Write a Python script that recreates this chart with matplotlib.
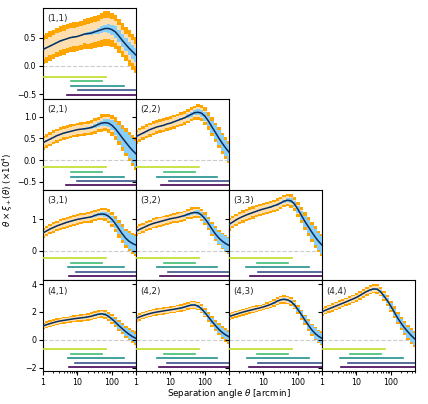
import numpy as np
import matplotlib
matplotlib.use('Agg')
import matplotlib.pyplot as plt
from matplotlib import ticker

# angular bins [arcmin]
theta = [1.0, 1.26, 1.58, 2.0, 2.51, 3.16, 3.98, 5.01, 6.31, 7.94, 10.0, 12.6, 15.8, 20.0,
         25.1, 31.6, 39.8, 50.1, 63.1, 79.4, 100.0, 126.0, 158.0, 200.0, 251.0, 316.0, 398.0, 501.0]

# theta * xi_+ (x1e4), best fit per bin pair
xi_11 = [0.29, 0.32, 0.35, 0.38, 0.41, 0.44, 0.46, 0.48, 0.50, 0.51, 0.52, 0.54, 0.56, 0.57,
         0.58, 0.60, 0.62, 0.64, 0.66, 0.66, 0.64, 0.60, 0.53, 0.45, 0.38, 0.31, 0.25, 0.19]
xi_21 = [0.40, 0.44, 0.48, 0.52, 0.56, 0.59, 0.62, 0.64, 0.66, 0.68, 0.70, 0.71, 0.72, 0.73,
         0.75, 0.78, 0.82, 0.85, 0.86, 0.85, 0.80, 0.72, 0.62, 0.51, 0.41, 0.31, 0.22, 0.14]
xi_22 = [0.54, 0.58, 0.62, 0.66, 0.70, 0.73, 0.76, 0.78, 0.80, 0.83, 0.85, 0.88, 0.91, 0.94,
         0.97, 1.01, 1.05, 1.09, 1.10, 1.08, 1.01, 0.90, 0.77, 0.64, 0.51, 0.39, 0.28, 0.18]
xi_31 = [0.57, 0.63, 0.69, 0.74, 0.79, 0.83, 0.87, 0.91, 0.94, 0.97, 1.00, 1.02, 1.04, 1.06,
         1.08, 1.12, 1.16, 1.17, 1.16, 1.10, 1.00, 0.86, 0.70, 0.54, 0.40, 0.30, 0.23, 0.18]
xi_32 = [0.62, 0.68, 0.73, 0.78, 0.83, 0.87, 0.90, 0.93, 0.96, 0.99, 1.02, 1.04, 1.06, 1.09,
         1.12, 1.16, 1.20, 1.22, 1.21, 1.14, 1.02, 0.87, 0.70, 0.54, 0.41, 0.31, 0.23, 0.17]
xi_33 = [0.84, 0.91, 0.98, 1.04, 1.09, 1.14, 1.18, 1.22, 1.26, 1.30, 1.33, 1.36, 1.39, 1.43,
         1.47, 1.52, 1.58, 1.61, 1.59, 1.49, 1.32, 1.13, 0.94, 0.77, 0.60, 0.44, 0.30, 0.18]
xi_41 = [0.99, 1.08, 1.16, 1.23, 1.30, 1.35, 1.39, 1.43, 1.47, 1.51, 1.54, 1.57, 1.60, 1.64,
         1.69, 1.76, 1.83, 1.86, 1.82, 1.68, 1.49, 1.26, 1.02, 0.80, 0.58, 0.39, 0.22, 0.10]
xi_42 = [1.54, 1.64, 1.73, 1.81, 1.88, 1.94, 1.99, 2.03, 2.07, 2.11, 2.15, 2.19, 2.23, 2.28,
         2.34, 2.42, 2.49, 2.50, 2.42, 2.22, 1.95, 1.64, 1.33, 1.03, 0.76, 0.53, 0.35, 0.22]
xi_43 = [1.66, 1.75, 1.83, 1.91, 1.98, 2.05, 2.11, 2.17, 2.23, 2.29, 2.36, 2.44, 2.53, 2.64,
         2.77, 2.87, 2.90, 2.86, 2.74, 2.50, 2.17, 1.81, 1.43, 1.06, 0.72, 0.45, 0.25, 0.10]
xi_44 = [2.01, 2.12, 2.22, 2.32, 2.42, 2.52, 2.62, 2.72, 2.83, 2.93, 3.04, 3.18, 3.33, 3.47,
         3.58, 3.65, 3.63, 3.45, 3.13, 2.80, 2.40, 1.97, 1.55, 1.17, 0.84, 0.55, 0.28, 0.05]

# data errors (half of the outer band)
sd_11 = [0.13, 0.13, 0.13, 0.13, 0.13, 0.13, 0.13, 0.13, 0.13, 0.13, 0.13, 0.13, 0.13, 0.14,
         0.14, 0.14, 0.14, 0.15, 0.15, 0.15, 0.15, 0.15, 0.15, 0.15, 0.15, 0.16, 0.16, 0.16]
sd_21 = [0.08, 0.08, 0.08, 0.08, 0.08, 0.08, 0.08, 0.08, 0.08, 0.08, 0.08, 0.08, 0.08, 0.08,
         0.09, 0.09, 0.09, 0.10, 0.10, 0.11, 0.12, 0.13, 0.14, 0.15, 0.16, 0.17, 0.18, 0.19]
sd_22 = [0.08, 0.08, 0.08, 0.08, 0.08, 0.08, 0.08, 0.08, 0.08, 0.08, 0.08, 0.08, 0.08, 0.08,
         0.08, 0.08, 0.08, 0.08, 0.09, 0.09, 0.10, 0.10, 0.11, 0.11, 0.12, 0.12, 0.13, 0.13]
sd_31 = [0.085, 0.085, 0.085, 0.085, 0.085, 0.085, 0.085, 0.085, 0.085, 0.085, 0.085, 0.085, 0.085, 0.09,
         0.09, 0.09, 0.09, 0.10, 0.10, 0.11, 0.12, 0.13, 0.14, 0.15, 0.15, 0.16, 0.17, 0.17]
sd_32 = [0.08, 0.08, 0.08, 0.08, 0.08, 0.08, 0.08, 0.08, 0.08, 0.08, 0.08, 0.08, 0.08, 0.08,
         0.08, 0.08, 0.09, 0.09, 0.09, 0.10, 0.10, 0.11, 0.11, 0.12, 0.12, 0.13, 0.13, 0.14]
sd_33 = [0.10, 0.10, 0.10, 0.10, 0.10, 0.10, 0.10, 0.10, 0.10, 0.10, 0.10, 0.10, 0.10, 0.10,
         0.10, 0.10, 0.10, 0.10, 0.11, 0.11, 0.12, 0.13, 0.14, 0.15, 0.16, 0.17, 0.17, 0.18]
sd_41 = [0.12, 0.12, 0.12, 0.12, 0.12, 0.12, 0.12, 0.12, 0.12, 0.12, 0.12, 0.13, 0.13, 0.13,
         0.14, 0.14, 0.14, 0.15, 0.15, 0.16, 0.17, 0.18, 0.19, 0.20, 0.21, 0.22, 0.24, 0.25]
sd_42 = [0.13, 0.13, 0.13, 0.13, 0.13, 0.13, 0.13, 0.13, 0.13, 0.13, 0.13, 0.13, 0.13, 0.14,
         0.14, 0.14, 0.15, 0.15, 0.15, 0.16, 0.17, 0.18, 0.19, 0.20, 0.21, 0.22, 0.24, 0.25]
sd_43 = [0.12, 0.12, 0.12, 0.12, 0.12, 0.12, 0.12, 0.12, 0.12, 0.12, 0.12, 0.13, 0.13, 0.13,
         0.14, 0.14, 0.15, 0.15, 0.15, 0.16, 0.17, 0.18, 0.19, 0.20, 0.21, 0.22, 0.24, 0.25]
sd_44 = [0.15, 0.15, 0.15, 0.15, 0.15, 0.15, 0.15, 0.15, 0.15, 0.15, 0.15, 0.15, 0.15, 0.16,
         0.16, 0.16, 0.17, 0.17, 0.18, 0.19, 0.20, 0.21, 0.22, 0.24, 0.25, 0.27, 0.28, 0.30]

# model spread
sm_11 = [0.01, 0.01, 0.01, 0.01, 0.01, 0.01, 0.01, 0.01, 0.01, 0.01, 0.01, 0.01, 0.02, 0.02,
         0.03, 0.04, 0.05, 0.06, 0.07, 0.08, 0.09, 0.10, 0.10, 0.11, 0.11, 0.12, 0.12, 0.12]
sm_21 = [0.01, 0.01, 0.01, 0.01, 0.01, 0.01, 0.01, 0.01, 0.01, 0.01, 0.01, 0.01, 0.02, 0.02,
         0.03, 0.04, 0.05, 0.06, 0.08, 0.10, 0.12, 0.15, 0.18, 0.21, 0.24, 0.27, 0.29, 0.30]
sm_22 = [0.01, 0.01, 0.01, 0.01, 0.01, 0.01, 0.01, 0.01, 0.01, 0.01, 0.01, 0.01, 0.02, 0.02,
         0.03, 0.04, 0.05, 0.06, 0.07, 0.08, 0.10, 0.12, 0.14, 0.16, 0.17, 0.18, 0.19, 0.20]
sm_31 = [0.01, 0.01, 0.01, 0.01, 0.01, 0.01, 0.01, 0.01, 0.01, 0.01, 0.01, 0.01, 0.02, 0.02,
         0.03, 0.04, 0.05, 0.06, 0.08, 0.10, 0.12, 0.15, 0.18, 0.21, 0.23, 0.25, 0.27, 0.28]
sm_32 = [0.01, 0.01, 0.01, 0.01, 0.01, 0.01, 0.01, 0.01, 0.01, 0.01, 0.01, 0.01, 0.02, 0.02,
         0.03, 0.04, 0.05, 0.06, 0.08, 0.10, 0.12, 0.14, 0.16, 0.18, 0.20, 0.22, 0.24, 0.25]
sm_33 = [0.01, 0.01, 0.01, 0.01, 0.01, 0.01, 0.01, 0.01, 0.01, 0.01, 0.01, 0.01, 0.02, 0.02,
         0.03, 0.04, 0.05, 0.06, 0.08, 0.10, 0.12, 0.15, 0.18, 0.21, 0.23, 0.25, 0.27, 0.28]
sm_41 = [0.02, 0.02, 0.02, 0.02, 0.02, 0.02, 0.02, 0.02, 0.02, 0.02, 0.02, 0.03, 0.03, 0.04,
         0.05, 0.06, 0.07, 0.09, 0.11, 0.14, 0.17, 0.20, 0.23, 0.26, 0.29, 0.31, 0.33, 0.35]
sm_42 = [0.02, 0.02, 0.02, 0.02, 0.02, 0.02, 0.02, 0.02, 0.02, 0.02, 0.02, 0.03, 0.03, 0.04,
         0.05, 0.06, 0.07, 0.09, 0.11, 0.14, 0.17, 0.20, 0.23, 0.26, 0.29, 0.31, 0.33, 0.35]
sm_43 = [0.02, 0.02, 0.02, 0.02, 0.02, 0.02, 0.02, 0.02, 0.02, 0.02, 0.02, 0.03, 0.03, 0.04,
         0.05, 0.06, 0.08, 0.10, 0.12, 0.15, 0.18, 0.22, 0.26, 0.30, 0.33, 0.36, 0.38, 0.40]
sm_44 = [0.02, 0.02, 0.02, 0.02, 0.02, 0.02, 0.02, 0.02, 0.02, 0.02, 0.02, 0.03, 0.03, 0.04,
         0.05, 0.07, 0.09, 0.11, 0.14, 0.17, 0.21, 0.25, 0.29, 0.33, 0.37, 0.40, 0.43, 0.45]

# scale-cut ranges (theta_min, theta_max) for the five probes
cuts_11 = [(1, 66), (6.4, 52), (6.4, 225), (10.4, 500), (5.0, 500)]
cuts_21 = [(1, 66), (6.4, 52), (6.4, 220), (10.0, 500), (4.8, 500)]
cuts_22 = [(1, 66), (6.6, 52), (4.2, 220), (9.1, 500), (5.2, 500)]
cuts_31 = [(1, 66), (6.4, 51), (5.4, 220), (9.3, 500), (5.5, 500)]
cuts_32 = [(1, 66), (6.6, 52), (4.2, 220), (8.7, 500), (5.0, 500)]
cuts_33 = [(1, 66), (6.3, 51), (3.2, 214), (7.0, 500), (4.1, 500)]
cuts_41 = [(1, 66), (6.4, 52), (5.4, 220), (8.5, 500), (5.5, 500)]
cuts_42 = [(1, 66), (6.6, 52), (4.2, 220), (8.2, 500), (4.7, 500)]
cuts_43 = [(1, 66), (6.3, 52), (3.4, 214), (6.8, 500), (3.8, 500)]
cuts_44 = [(1, 66), (6.4, 53), (3.3, 226), (5.7, 500), (3.6, 500)]
cut_colors = ['#bddf26', '#3fbc73', '#21918c', '#3b528b', '#440154']
cut_ypos = [0.245, 0.192, 0.143, 0.093, 0.045]

row_ylim = [(-0.58, 1.02), (-0.68, 1.41), (-0.94, 1.95), (-2.24, 4.27)]
row_yticks = [[-0.5, 0.0, 0.5], [-0.5, 0.0, 0.5, 1.0], [0, 1], [-2, 0, 2, 4]]

panels = {
    (1, 1): (xi_11, sd_11, sm_11, cuts_11),
    (2, 1): (xi_21, sd_21, sm_21, cuts_21),
    (2, 2): (xi_22, sd_22, sm_22, cuts_22),
    (3, 1): (xi_31, sd_31, sm_31, cuts_31),
    (3, 2): (xi_32, sd_32, sm_32, cuts_32),
    (3, 3): (xi_33, sd_33, sm_33, cuts_33),
    (4, 1): (xi_41, sd_41, sm_41, cuts_41),
    (4, 2): (xi_42, sd_42, sm_42, cuts_42),
    (4, 3): (xi_43, sd_43, sm_43, cuts_43),
    (4, 4): (xi_44, sd_44, sm_44, cuts_44),
}

c_orange = '#ffa500'
c_peach = '#ffdfb0'
c_blue = '#87cefa'
c_line = '#0b2d5b'
fs_tick = 5.7
fs_label = 6.3

fig = plt.figure(figsize=(4.28, 4.04), dpi=100)
gs = fig.add_gridspec(4, 4, left=0.1005, right=0.9696, bottom=0.0817, top=0.98,
                      wspace=0, hspace=0)

th = np.array(theta)
for (i, j), (xi, sd, sm, cuts) in panels.items():
    ax = fig.add_subplot(gs[i - 1, j - 1])
    xi = np.array(xi)
    sd = np.array(sd)
    sm = np.array(sm)

    # outer (orange) and inner (peach) data bands, model band on top
    ax.fill_between(th, xi - 2 * sd, xi + 2 * sd, step='mid', color=c_orange, lw=0, zorder=1)
    ax.fill_between(th, xi - 1.25 * sd, xi + 1.25 * sd, step='mid', color=c_peach, lw=0, zorder=2)
    ax.fill_between(th, xi - sm, xi + sm, step='mid', color=c_blue, lw=0, zorder=3)
    ax.plot(th, xi, color=c_line, lw=1.1, zorder=4)
    ax.axhline(0, color='#cccccc', ls='--', lw=0.8, zorder=0)

    for (lo, hi), col, yp in zip(cuts, cut_colors, cut_ypos):
        ax.plot([lo, hi], [yp, yp], color=col, lw=1.2,
                transform=ax.get_xaxis_transform(), zorder=5)

    ax.set_xscale('log')
    ax.set_xlim(1, 500)
    ax.set_ylim(*row_ylim[i - 1])
    ax.set_yticks(row_yticks[i - 1])
    ax.text(0.05, 0.93, f'({i},{j})', transform=ax.transAxes, fontsize=fs_label,
            ha='left', va='top', color='#222222')

    ax.tick_params(labelsize=fs_tick, width=0.8, length=2.8, pad=2)
    ax.tick_params(which='minor', length=1.5, width=0.6)
    if j > 1:
        ax.tick_params(labelleft=False)
    if i < 4:
        ax.tick_params(axis='x', which='both', labelbottom=False, length=0)
    else:
        ax.set_xticks([1, 10, 100])
        ax.xaxis.set_major_formatter(ticker.FuncFormatter(lambda v, p: f'{v:g}'))
    for s in ax.spines.values():
        s.set_linewidth(0.8)

fig.text(0.5355, 0.027, r'Separation angle $\theta$ [arcmin]', ha='center', va='center',
         fontsize=fs_label)
fig.text(0.019, 0.53, r'$\theta \times \xi_+(\theta)$ $(\times 10^4)$', rotation=90,
         ha='center', va='center', fontsize=fs_label)

plt.savefig('out.png', dpi=100)
